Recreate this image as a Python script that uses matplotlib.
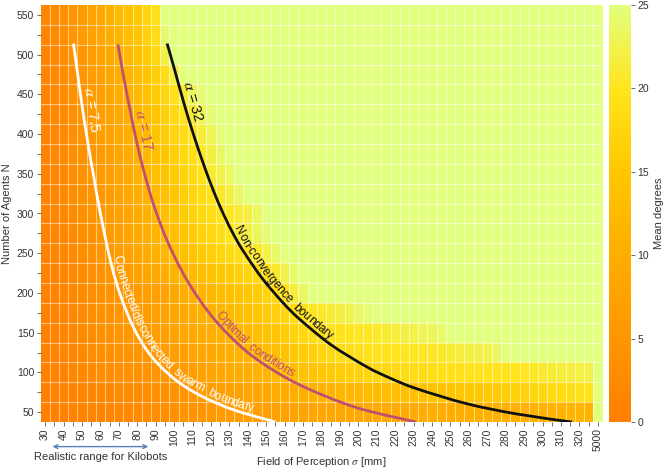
import numpy as np
import matplotlib
matplotlib.use("Agg")
import matplotlib.pyplot as plt
from matplotlib.colors import LinearSegmentedColormap
from matplotlib.transforms import blended_transform_factory
from matplotlib.path import Path
from matplotlib.patches import PathPatch

plt.rcParams["font.family"] = ["Liberation Sans", "DejaVu Sans"]
plt.rcParams["mathtext.fontset"] = "stix"

# field of perception (mm) per tile column, 5000 = "infinite" column
sigma_values = [30, 35, 40, 45, 50, 55, 60, 65, 70, 75, 80, 85, 90, 95, 100, 105, 110, 115, 120, 125,
                130, 135, 140, 145, 150, 155, 160, 165, 170, 175, 180, 185, 190, 195, 200, 205, 210, 215,
                220, 225, 230, 235, 240, 245, 250, 255, 260, 265, 270, 275, 280, 285, 290, 295, 300, 305,
                310, 315, 320, 325, 5000]
agents = [50, 75, 100, 125, 150, 175, 200, 225, 250, 275, 300, 325, 350, 375, 400, 425, 450, 475, 500, 525, 550]

# mean degree per (agents row, sigma column); values >= 25 drawn as saturated
mean_degree = [
    # N = 50
    [0.2, 0.35, 0.5, 0.65, 0.8, 1.0, 1.2, 1.4, 1.7, 2.0,
     2.3, 2.6, 3.0, 3.4, 3.8, 4.2, 4.6, 5.0, 5.4, 5.8,
     6.1, 6.4, 6.7, 6.9, 7.1, 7.3, 7.5, 7.7, 7.9, 8.1,
     8.3, 8.5, 8.6, 8.8, 9.0, 9.1, 9.2, 9.3, 9.4, 9.5,
     9.6, 9.7, 9.8, 9.9, 10.0, 10.1, 10.2, 10.3, 10.4, 10.5,
     10.6, 10.7, 10.8, 10.9, 11.0, 11.1, 11.2, 11.3, 11.4, 11.5, 25],
    # N = 75
    [0.3, 0.5, 0.7, 0.95, 1.2, 1.45, 1.7, 2.0, 2.3, 2.6,
     2.9, 3.2, 3.5, 3.9, 4.3, 4.8, 5.3, 5.8, 6.3, 6.7,
     7.1, 7.5, 7.9, 8.3, 8.7, 9.1, 9.5, 9.9, 10.3, 10.7,
     11.1, 11.5, 11.9, 12.2, 12.5, 12.8, 13.1, 13.3, 13.5, 13.7,
     13.9, 14.1, 14.3, 14.5, 14.7, 14.9, 15.1, 15.3, 15.5, 15.8,
     16.1, 16.5, 16.9, 17.3, 17.7, 18.1, 18.5, 18.9, 19.3, 19.6, 25],
    # N = 100
    [0.4, 0.65, 0.9, 1.3, 1.8, 2.4, 3.0, 3.3, 3.6, 3.9,
     4.1, 4.3, 4.7, 5.3, 5.8, 6.3, 6.8, 7.3, 7.9, 8.5,
     9.1, 9.6, 10.1, 10.8, 11.5, 12.2, 12.9, 13.5, 14.1, 14.6,
     15.1, 15.6, 16.1, 16.6, 17.0, 17.3, 17.6, 17.9, 18.1, 18.3,
     18.5, 18.7, 18.9, 19.1, 19.3, 19.4, 19.5, 19.6, 19.7, 19.8,
     19.9, 20.0, 20.2, 20.5, 20.8, 21.1, 21.4, 21.7, 22.0, 22.3, 25],
    # N = 125
    [0.45, 0.7, 1.0, 1.45, 2.0, 2.65, 3.3, 3.7, 4.1, 4.5,
     4.8, 5.1, 5.6, 6.2, 6.8, 7.3, 7.9, 8.4, 9.0, 9.6,
     10.2, 10.8, 11.3, 12.0, 12.8, 13.6, 14.4, 15.3, 16.0, 16.6,
     17.2, 17.8, 18.3, 18.8, 19.2, 19.5, 19.7, 19.8, 19.9, 20.0,
     20.1, 20.2, 20.3, 20.5, 21.0, 21.5, 21.8, 22.1, 22.4, 23.5,
     25, 25, 25, 25, 25, 25, 25, 25, 25, 25, 25],
    # N = 150
    [0.5, 0.8, 1.1, 1.6, 2.2, 2.9, 3.7, 4.2, 4.7, 5.2,
     5.6, 6.0, 6.5, 7.1, 7.7, 8.3, 8.9, 9.5, 10.1, 10.7,
     11.3, 11.9, 12.5, 13.3, 14.1, 15.0, 16.0, 17.0, 17.8, 18.5,
     19.0, 19.4, 19.7, 20.0, 20.2, 20.4, 20.7, 21.0, 21.5, 22.0,
     22.4, 22.8, 23.2, 23.8, 25, 25, 25, 25, 25, 25,
     25, 25, 25, 25, 25, 25, 25, 25, 25, 25, 25],
    # N = 175
    [0.55, 0.85, 1.2, 1.7, 2.3, 2.95, 3.7, 4.25, 4.8, 5.35,
     5.8, 6.3, 6.85, 7.55, 8.25, 8.95, 9.65, 10.35, 11.05, 11.75,
     12.45, 13.15, 13.85, 14.75, 15.65, 16.65, 17.6, 18.6, 19.4, 20.0,
     20.6, 21.1, 21.7, 22.5, 23.6, 24.6, 25, 25, 25, 25,
     25, 25, 25, 25, 25, 25, 25, 25, 25, 25,
     25, 25, 25, 25, 25, 25, 25, 25, 25, 25, 25],
    # N = 200
    [0.6, 0.9, 1.3, 1.8, 2.4, 3.0, 3.7, 4.3, 4.9, 5.5,
     6.0, 6.6, 7.2, 8.0, 8.8, 9.6, 10.4, 11.2, 12.0, 12.8,
     13.6, 14.4, 15.2, 16.2, 17.2, 18.3, 19.5, 21.5, 23.5, 25,
     25, 25, 25, 25, 25, 25, 25, 25, 25, 25,
     25, 25, 25, 25, 25, 25, 25, 25, 25, 25,
     25, 25, 25, 25, 25, 25, 25, 25, 25, 25, 25],
    # N = 225
    [0.65, 0.95, 1.4, 2.0, 2.7, 3.45, 4.2, 4.9, 5.65, 6.45,
     7.2, 8.05, 8.9, 9.85, 10.8, 11.7, 12.6, 13.45, 14.3, 15.1,
     15.9, 16.7, 17.45, 18.3, 19.2, 20.5, 22.3, 24.0, 25, 25,
     25, 25, 25, 25, 25, 25, 25, 25, 25, 25,
     25, 25, 25, 25, 25, 25, 25, 25, 25, 25,
     25, 25, 25, 25, 25, 25, 25, 25, 25, 25, 25],
    # N = 250
    [0.7, 1.0, 1.5, 2.2, 3.0, 3.9, 4.7, 5.5, 6.4, 7.4,
     8.4, 9.5, 10.6, 11.7, 12.8, 13.8, 14.8, 15.7, 16.6, 17.4,
     18.2, 19.0, 19.7, 20.8, 22.2, 23.7, 25, 25, 25, 25,
     25, 25, 25, 25, 25, 25, 25, 25, 25, 25,
     25, 25, 25, 25, 25, 25, 25, 25, 25, 25,
     25, 25, 25, 25, 25, 25, 25, 25, 25, 25, 25],
    # N = 275
    [0.7, 1.1, 1.6, 2.3, 3.2, 4.1, 5.0, 5.8, 6.7, 7.8,
     8.9, 10.0, 11.2, 12.4, 13.6, 14.8, 15.9, 16.9, 17.9, 18.8,
     20.0, 21.0, 22.0, 23.2, 24.5, 25, 25, 25, 25, 25,
     25, 25, 25, 25, 25, 25, 25, 25, 25, 25,
     25, 25, 25, 25, 25, 25, 25, 25, 25, 25,
     25, 25, 25, 25, 25, 25, 25, 25, 25, 25, 25],
    # N = 300
    [0.8, 1.2, 1.7, 2.5, 3.4, 4.4, 5.2, 6.1, 7.1, 8.3,
     9.4, 10.6, 12.0, 13.4, 14.6, 15.8, 17.0, 17.9, 18.7, 19.5,
     20.3, 21.0, 21.8, 23.5, 25, 25, 25, 25, 25, 25,
     25, 25, 25, 25, 25, 25, 25, 25, 25, 25,
     25, 25, 25, 25, 25, 25, 25, 25, 25, 25,
     25, 25, 25, 25, 25, 25, 25, 25, 25, 25, 25],
    # N = 325
    [0.8, 1.3, 1.9, 2.7, 3.7, 4.6, 5.5, 6.5, 7.5, 8.7,
     9.8, 11.0, 12.4, 13.7, 15.0, 16.2, 17.4, 18.5, 19.5, 20.7,
     22.0, 23.5, 25, 25, 25, 25, 25, 25, 25, 25,
     25, 25, 25, 25, 25, 25, 25, 25, 25, 25,
     25, 25, 25, 25, 25, 25, 25, 25, 25, 25,
     25, 25, 25, 25, 25, 25, 25, 25, 25, 25, 25],
    # N = 350
    [0.9, 1.4, 2.0, 2.9, 3.9, 4.9, 5.8, 6.8, 7.9, 9.2,
     10.4, 11.6, 13.2, 14.6, 15.8, 17.0, 18.3, 19.5, 21.0, 22.3,
     23.6, 25, 25, 25, 25, 25, 25, 25, 25, 25,
     25, 25, 25, 25, 25, 25, 25, 25, 25, 25,
     25, 25, 25, 25, 25, 25, 25, 25, 25, 25,
     25, 25, 25, 25, 25, 25, 25, 25, 25, 25, 25],
    # N = 375
    [0.9, 1.5, 2.2, 3.1, 4.1, 5.1, 6.1, 7.1, 8.2, 9.4,
     10.7, 12.0, 13.5, 14.9, 16.5, 17.8, 19.1, 20.5, 22.0, 23.5,
     25, 25, 25, 25, 25, 25, 25, 25, 25, 25,
     25, 25, 25, 25, 25, 25, 25, 25, 25, 25,
     25, 25, 25, 25, 25, 25, 25, 25, 25, 25,
     25, 25, 25, 25, 25, 25, 25, 25, 25, 25, 25],
    # N = 400
    [1.0, 1.6, 2.3, 3.3, 4.3, 5.4, 6.4, 7.4, 8.6, 10.0,
     11.3, 12.7, 14.5, 16.0, 17.3, 18.5, 19.8, 21.5, 23.0, 24.5,
     25, 25, 25, 25, 25, 25, 25, 25, 25, 25,
     25, 25, 25, 25, 25, 25, 25, 25, 25, 25,
     25, 25, 25, 25, 25, 25, 25, 25, 25, 25,
     25, 25, 25, 25, 25, 25, 25, 25, 25, 25, 25],
    # N = 425
    [1.0, 1.8, 2.5, 3.5, 4.5, 5.6, 6.6, 7.7, 9.0, 10.3,
     11.7, 13.2, 14.8, 16.4, 18.0, 19.6, 21.2, 23.0, 24.5, 25,
     25, 25, 25, 25, 25, 25, 25, 25, 25, 25,
     25, 25, 25, 25, 25, 25, 25, 25, 25, 25,
     25, 25, 25, 25, 25, 25, 25, 25, 25, 25,
     25, 25, 25, 25, 25, 25, 25, 25, 25, 25, 25],
    # N = 450
    [1.1, 1.9, 2.7, 3.7, 4.8, 5.9, 7.0, 8.2, 9.6, 11.0,
     12.4, 14.0, 15.8, 17.6, 19.5, 21.2, 23.0, 24.5, 25, 25,
     25, 25, 25, 25, 25, 25, 25, 25, 25, 25,
     25, 25, 25, 25, 25, 25, 25, 25, 25, 25,
     25, 25, 25, 25, 25, 25, 25, 25, 25, 25,
     25, 25, 25, 25, 25, 25, 25, 25, 25, 25, 25],
    # N = 475
    [1.2, 2.0, 2.8, 3.9, 5.0, 6.2, 7.2, 8.5, 9.8, 11.2,
     12.8, 14.5, 16.3, 18.5, 22.0, 25, 25, 25, 25, 25,
     25, 25, 25, 25, 25, 25, 25, 25, 25, 25,
     25, 25, 25, 25, 25, 25, 25, 25, 25, 25,
     25, 25, 25, 25, 25, 25, 25, 25, 25, 25,
     25, 25, 25, 25, 25, 25, 25, 25, 25, 25, 25],
    # N = 500
    [1.3, 2.1, 3.0, 4.2, 5.4, 6.5, 7.7, 9.0, 10.4, 12.0,
     13.7, 15.5, 17.5, 22.0, 25, 25, 25, 25, 25, 25,
     25, 25, 25, 25, 25, 25, 25, 25, 25, 25,
     25, 25, 25, 25, 25, 25, 25, 25, 25, 25,
     25, 25, 25, 25, 25, 25, 25, 25, 25, 25,
     25, 25, 25, 25, 25, 25, 25, 25, 25, 25, 25],
    # N = 525
    [1.4, 2.3, 3.3, 4.7, 6.0, 7.2, 8.5, 9.8, 11.5, 13.3,
     15.0, 16.8, 18.7, 24.0, 25, 25, 25, 25, 25, 25,
     25, 25, 25, 25, 25, 25, 25, 25, 25, 25,
     25, 25, 25, 25, 25, 25, 25, 25, 25, 25,
     25, 25, 25, 25, 25, 25, 25, 25, 25, 25,
     25, 25, 25, 25, 25, 25, 25, 25, 25, 25, 25],
    # N = 550
    [1.5, 2.5, 3.5, 5.0, 6.5, 7.7, 9.0, 10.2, 12.3, 14.0,
     15.7, 17.5, 19.5, 25, 25, 25, 25, 25, 25, 25,
     25, 25, 25, 25, 25, 25, 25, 25, 25, 25,
     25, 25, 25, 25, 25, 25, 25, 25, 25, 25,
     25, 25, 25, 25, 25, 25, 25, 25, 25, 25,
     25, 25, 25, 25, 25, 25, 25, 25, 25, 25, 25],
]

# boundary curves (sigma mm, number of agents)
alpha75_sigma = [45.4, 49.3, 52.9, 56.5, 60.1, 65.5, 70.9, 78.1, 87.2, 99.8, 114.2, 132.2, 155.0]
alpha75_agents = [514, 448, 393, 345, 299, 240, 197, 156, 121.6, 92.4, 70.9, 52.9, 37.5]
alpha17_sigma = [69.5, 72.7, 76.3, 79.6, 83.5, 88.9, 96.2, 107.0, 121.4, 138.0, 153.8, 171.9, 199.0, 231.4]
alpha17_agents = [513, 471, 428, 391, 354, 311, 266, 216, 168, 129, 102.7, 80.2, 55.6, 37.4]
alpha32_sigma = [96.2, 99.8, 105.2, 110.6, 116.0, 121.4, 126.8, 132.2, 137.6, 148.0, 159.3, 168.3,
                 185.0, 204.3, 217.0, 231.4, 258.4, 285.5, 316.0]
alpha32_agents = [514, 485, 440, 399, 362, 328.4, 299.2, 274, 252.5, 217.8, 187.2, 166.6,
                  135, 107.3, 93, 79.6, 60.8, 47.8, 37.4]

kilobot_range = (34, 86)

for row in mean_degree:
    assert len(row) == len(sigma_values)

cmap = LinearSegmentedColormap.from_list(
    "deg", ["#FF7F00", "#FF9600", "#FFAE00", "#FFC600", "#FFE51C", "#E2FF7E"])

W, H = 664, 469
fig = plt.figure(figsize=(W / 100, H / 100), dpi=100)
ax = fig.add_axes([40.5 / W, 1 - 422 / H, 562 / W, 417 / H])
cax = fig.add_axes([609 / W, 1 - 422 / H, 22 / W, 417 / H])

x_pos = 30 + 5 * np.arange(len(sigma_values))
y_pos = np.array(agents, dtype=float)
x_edges = np.append(x_pos - 2.5, x_pos[-1] + 2.5)
y_edges = np.append(y_pos - 12.5, y_pos[-1] + 12.5)

mesh = ax.pcolormesh(x_edges, y_edges, np.array(mean_degree), cmap=cmap, vmin=0, vmax=25, shading="flat")
ax.vlines(x_edges[1:-1], y_edges[0], y_edges[-1], colors="white", alpha=0.5, lw=0.8)
ax.hlines(y_edges[1:-1], x_edges[0], x_edges[-1], colors="white", alpha=0.5, lw=0.8)
ax.set_xlim(x_edges[0], x_edges[-1])
ax.set_ylim(y_edges[0], y_edges[-1])

for s in ax.spines.values():
    s.set_visible(False)

ax.set_xticks(x_pos[::2])
ax.set_xticklabels([str(s) for s in sigma_values[::2]], rotation=90)
ax.set_xticks(x_pos[1::2], minor=True)
ax.set_yticks(y_pos[::2])
ax.set_yticks(y_pos[1::2], minor=True)
ax.tick_params(which="both", length=3, width=0.6, color="#555555", labelsize=7.5, labelcolor="#333333", pad=1.5)

ax.set_xlabel(r"Field of Perception $\sigma$ [mm]", fontsize=8, color="#333333")
ax.xaxis.set_label_coords(0.5, -0.079)
ax.set_ylabel("Number of Agents N", fontsize=8, color="#333333")
ax.yaxis.set_label_coords(-0.051, 0.5)

renderer = fig.canvas.get_renderer()


def smooth_path(xs, ys):
    # Catmull-Rom through the read points, drawn as cubic Bezier segments (screen space)
    p = ax.transData.transform(np.column_stack([xs, ys]))
    n = len(p)
    verts, codes = [p[0]], [Path.MOVETO]
    for i in range(n - 1):
        p0 = p[i - 1] if i > 0 else p[i]
        p3 = p[i + 2] if i + 2 < n else p[i + 1]
        verts += [p[i] + (p[i + 1] - p0) / 6, p[i + 1] - (p3 - p[i]) / 6, p[i + 1]]
        codes += [Path.CURVE4] * 3
    return np.array(verts), codes


def draw_curve(xs, ys, color):
    verts, codes = smooth_path(xs, ys)
    data_verts = ax.transData.inverted().transform(verts)
    ax.add_patch(PathPatch(Path(data_verts, codes), fill=False, edgecolor=color, lw=2,
                           capstyle="butt", zorder=3))
    poly = Path(verts, codes).to_polygons(closed_only=False)[0]
    arc = np.concatenate([[0.0], np.cumsum(np.hypot(*np.diff(poly, axis=0).T))])
    return poly, arc


def text_width(s, kw):
    t = fig.text(0, 0, s, **kw)
    w = t.get_window_extent(renderer).width
    t.remove()
    return w


def frame_at(poly, arc, s, offset, h=5.0):
    px = np.interp([s - h, s, s + h], arc, poly[:, 0])
    py = np.interp([s - h, s, s + h], arc, poly[:, 1])
    dx, dy = px[2] - px[0], py[2] - py[0]
    n = np.hypot(dx, dy)
    ang = np.degrees(np.arctan2(dy, dx))
    xd, yd = ax.transData.inverted().transform((px[1] - offset * dy / n, py[1] + offset * dx / n))
    return xd, yd, ang


def arc_at_sigma(poly, arc, sigma):
    xpix = ax.transData.transform((sigma, 0))[0]
    return np.interp(xpix, poly[:, 0], arc)


def text_along(curve, text, sigma_start, offset, **kw):
    poly, arc = curve
    start = arc_at_sigma(poly, arc, sigma_start)
    bar = text_width("|", kw)
    widths = [text_width(text[:i] + "|", kw) - bar for i in range(len(text) + 1)]
    for i, ch in enumerate(text):
        if ch == " ":
            continue
        s = start + (widths[i] + widths[i + 1]) / 2
        xd, yd, ang = frame_at(poly, arc, s, offset)
        ax.text(xd, yd, ch, rotation=ang, rotation_mode="anchor", ha="center", va="baseline", zorder=4, **kw)


def label_on(curve, text, sigma_at, offset, **kw):
    poly, arc = curve
    xd, yd, ang = frame_at(poly, arc, arc_at_sigma(poly, arc, sigma_at), offset)
    ax.text(xd, yd, text, rotation=ang, rotation_mode="anchor", ha="center", va="bottom", zorder=4, **kw)


white_curve = draw_curve(alpha75_sigma, alpha75_agents, "white")
mauve_curve = draw_curve(alpha17_sigma, alpha17_agents, "#C0506E")
black_curve = draw_curve(alpha32_sigma, alpha32_agents, "#111111")

label_on(white_curve, r"$\alpha$ = 7.5", 50.5, 2, color="white", fontsize=10.5)
label_on(mauve_curve, r"$\alpha$ = 17", 78.5, 2, color="#C0506E", fontsize=10.5)
label_on(black_curve, r"$\alpha$ = 32", 105.5, 2, color="#111111", fontsize=10.5)

text_along(white_curve, "Connected/disconnected  swarm  boundary", 65, 3.5, color="white", fontsize=8.5)
text_along(mauve_curve, "Optimal  conditions", 121, 3.5, color="#C0506E", fontsize=8.5)
text_along(black_curve, "Non-convergence  boundary", 131, 3.5, color="#111111", fontsize=8.5)

trans = blended_transform_factory(ax.transData, ax.transAxes)
ax.annotate("", xy=(kilobot_range[1], -0.059), xytext=(kilobot_range[0], -0.059),
            xycoords=trans, textcoords=trans, annotation_clip=False,
            arrowprops=dict(arrowstyle="<->", color="#5B7DB8", lw=1.0, shrinkA=0, shrinkB=0,
                            mutation_scale=7))
ax.text(sum(kilobot_range) / 2, -0.083, "Realistic range for Kilobots", transform=trans,
        ha="center", va="center", fontsize=8, color="#333333")

cb = fig.colorbar(mesh, cax=cax, ticks=[0, 5, 10, 15, 20, 25])
cb.outline.set_visible(False)
cb.ax.tick_params(length=3, width=0.6, color="#555555", labelsize=7.5, labelcolor="#333333", pad=1.5)
cb.set_label("Mean degrees", fontsize=8, color="#333333", labelpad=4)

fig.savefig("out.png", dpi=100, facecolor="white")
plt.close(fig)
